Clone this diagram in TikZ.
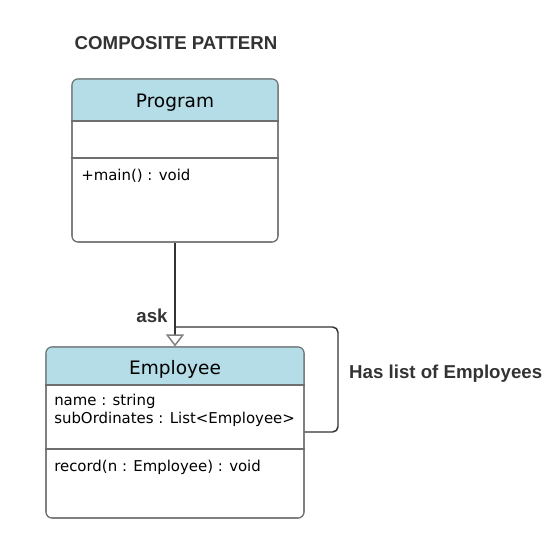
\documentclass[tikz,border=0pt]{standalone}
\usepackage{fontspec}
\setmainfont{DejaVu Sans}
\newfontfamily\lblfont{Liberation Sans}
\usetikzlibrary{arrows.meta}
\definecolor{hdrblue}{HTML}{B4DDE7}
\definecolor{boxgray}{HTML}{6E6E6E}
\definecolor{linedark}{HTML}{333333}
\begin{document}
\begin{tikzpicture}
[x=0.75pt,y=-0.75pt,
class box/.style={draw=boxgray,line width=0.8pt,rounded corners=4.5pt,inner sep=0pt},
class name/.style={font=\fontsize{13.9}{16}\selectfont},
member/.style={anchor=west,inner sep=0pt,font=\fontsize{11.2}{13}\selectfont},
caption/.style={font=\lblfont\bfseries\fontsize{14}{16}\selectfont,text=linedark},
inherit/.style={-{Triangle[open,length=9pt,width=13.5pt,color=gray]},draw=linedark,line width=1.1pt},
loop/.style={draw=linedark,line width=1.1pt,rounded corners=4pt}]
\useasboundingbox (0,0) rectangle (552,552);
    % title
    \node[caption] (title) at (176,43.5) {COMPOSITE PATTERN};
    % class Program
    \node[class box,minimum width=154.5pt,minimum height=122.25pt] (prog) at (175,160.5) {};
    \begin{scope}
    \clip[rounded corners=4.5pt] (prog.south west) rectangle (prog.north east);
    \fill[hdrblue] (prog.north west) rectangle (prog.east |- 0,121);
    \end{scope}
    \draw[boxgray,line width=0.8pt] (prog.west |- 0,121) -- (prog.east |- 0,121);
    \draw[boxgray,line width=0.8pt] (prog.west |- 0,158) -- (prog.east |- 0,158);
    \node[class box] at (prog) [minimum width=154.5pt,minimum height=122.25pt] {};
    \node[class name] (progname) at (175,103) {Program};
    \node[member] (progmain) at (81,176) {+main() : void};
    % class Employee
    \node[class box,minimum width=193.5pt,minimum height=128.25pt] (emp) at (175,432.5) {};
    \begin{scope}
    \clip[rounded corners=4.5pt] (emp.south west) rectangle (emp.north east);
    \fill[hdrblue] (emp.north west) rectangle (emp.east |- 0,385);
    \end{scope}
    \draw[boxgray,line width=0.8pt] (emp.west |- 0,385) -- (emp.east |- 0,385);
    \draw[boxgray,line width=0.8pt] (emp.west |- 0,449) -- (emp.east |- 0,449);
    \node[class box] at (emp) [minimum width=193.5pt,minimum height=128.25pt] {};
    \node[class name] (empname) at (175,369) {Employee};
    \node[member] (empname1) at (54,401) {name : string};
    \node[member] (empsub) at (54,419) {subOrdinates : List<Employee>};
    \node[member] (emprec) at (54,467) {record(n : Employee) : void};
    % connectors
    \coordinate (join) at (175,327);
    \coordinate (loopout) at (emp.east |- 0,432);
    \draw[loop] (loopout) -- (338,432) -- (338,327) -- (join);
    \draw[inherit] (prog.south) -- (emp.north);
    \node[caption] (asklbl) at (152,316) {ask};
    \node[caption,anchor=west] (haslbl) at (344.5,373.5) {Has list of Employees};
\end{tikzpicture}
\end{document}
